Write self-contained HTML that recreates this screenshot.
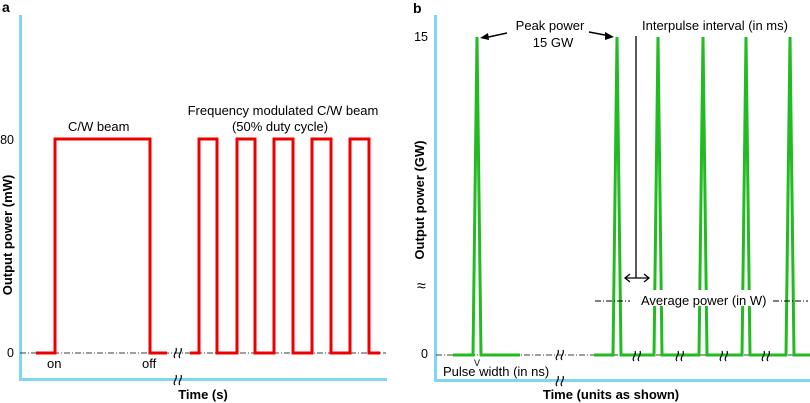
<!DOCTYPE html>
<html><head><meta charset="utf-8"><style>
body{margin:0;background:#fff}
svg{display:block;font-family:"Liberation Sans",Arial,sans-serif}
</style></head><body>
<svg width="810" height="403" viewBox="0 0 810 403">
<defs>
<g id="sq"><path d="M-3,5 C-6,2 0,-1 -2,-5 M2,5 C-1,2 5,-1 3,-5" fill="none" stroke="#000" stroke-width="1.2"/></g>
</defs>
<!-- panel a -->
<text x="2" y="12" font-size="14" font-weight="bold">a</text>
<line x1="20.5" y1="15" x2="20.5" y2="381" stroke="#7fd6f0" stroke-width="3"/>
<line x1="19" y1="379.5" x2="387" y2="379.5" stroke="#7fd6f0" stroke-width="3"/>
<line x1="20" y1="353" x2="386" y2="353" stroke="#000" stroke-width="0.8" stroke-dasharray="6,2,1,2"/>
<text x="14" y="144" font-size="12.5" text-anchor="end">80</text>
<text x="14" y="357" font-size="12.5" text-anchor="end">0</text>
<polyline fill="none" stroke="#ee0000" stroke-width="3" points="36,353 55,353 55,139 150,139 150,353 167,353"/>
<polyline fill="none" stroke="#ee0000" stroke-width="3" points="190,353 199,353 199,139 217,139 217,353 237,353 237,139 255,139 255,353 274,353 274,139 293,139 293,353 312,353 312,139 331,139 331,353 350,353 350,139 369,139 369,353 380,353"/>
<text x="68" y="131" font-size="13">C/W beam</text>
<text x="283" y="115" font-size="13" text-anchor="middle">Frequency modulated C/W beam</text>
<text x="280" y="131" font-size="13" text-anchor="middle">(50% duty cycle)</text>
<text x="47" y="368" font-size="13">on</text>
<text x="142" y="368" font-size="13">off</text>
<use href="#sq" x="178" y="353"/>
<use href="#sq" x="178" y="380"/>
<text x="203" y="399" font-size="13" font-weight="bold" text-anchor="middle">Time (s)</text>
<text transform="translate(12,235) rotate(-90)" font-size="13" font-weight="bold" text-anchor="middle">Output power (mW)</text>
<!-- panel b -->
<text x="413" y="13" font-size="14" font-weight="bold">b</text>
<line x1="435.5" y1="15" x2="435.5" y2="381" stroke="#7fd6f0" stroke-width="3"/>
<line x1="434" y1="380.5" x2="810" y2="380.5" stroke="#7fd6f0" stroke-width="3"/>
<line x1="436" y1="355" x2="810" y2="355" stroke="#000" stroke-width="0.8" stroke-dasharray="6,2,1,2"/>
<text x="428" y="41" font-size="12.5" text-anchor="end">15</text>
<text x="428" y="358" font-size="12.5" text-anchor="end">0</text>
<text x="417" y="291" font-size="16">≈</text>
<g fill="none" stroke="#22bb22" stroke-width="3">
<polyline points="453,355 473,355 477,37 481,355 520,355"/>
<polyline points="594,355 613,355 617,37 621,355 654,355 658,37 662,355 699,355 703,37 707,355 742,355 746,37 750,355 786,355 790,37 794,355 810,355"/>
</g>
<use href="#sq" x="637" y="356"/>
<use href="#sq" x="680" y="356"/>
<use href="#sq" x="724" y="356"/>
<use href="#sq" x="766" y="356"/>
<use href="#sq" x="560" y="355"/>
<use href="#sq" x="560" y="381"/>
<line x1="595" y1="301" x2="630" y2="301" stroke="#000" stroke-dasharray="6,2,1,2"/>
<line x1="773" y1="301" x2="808" y2="301" stroke="#000" stroke-dasharray="6,2,1,2"/>
<rect x="636" y="290" width="136" height="16" fill="#fff"/>
<text x="641" y="305" font-size="13">Average power (in W)</text>
<text x="443" y="376" font-size="13">Pulse width (in ns)</text>
<text x="474" y="366" font-size="9">V</text>
<text x="550" y="30" font-size="13" text-anchor="middle">Peak power</text>
<text x="553" y="47" font-size="13" text-anchor="middle">15 GW</text>
<text x="642" y="30" font-size="13">Interpulse interval (in ms)</text>
<line x1="507" y1="33" x2="484" y2="38" stroke="#000" stroke-width="1.5"/>
<polygon points="480,38 488,33 489,40" fill="#000"/>
<line x1="589" y1="32" x2="610" y2="36" stroke="#000" stroke-width="1.5"/>
<polygon points="614,37 605,32 605,40" fill="#000"/>
<line x1="636" y1="36" x2="636" y2="278" stroke="#000" stroke-width="1.3"/>
<line x1="626" y1="278" x2="648" y2="278" stroke="#000" stroke-width="1.3"/>
<polyline points="630,274 625,278 630,282" fill="none" stroke="#000" stroke-width="1.3"/>
<polyline points="644,274 649,278 644,282" fill="none" stroke="#000" stroke-width="1.3"/>
<text x="611" y="399" font-size="13" font-weight="bold" text-anchor="middle">Time (units as shown)</text>
<text transform="translate(424,200) rotate(-90)" font-size="13" font-weight="bold" text-anchor="middle">Output power (GW)</text>
</svg>
</body></html>
